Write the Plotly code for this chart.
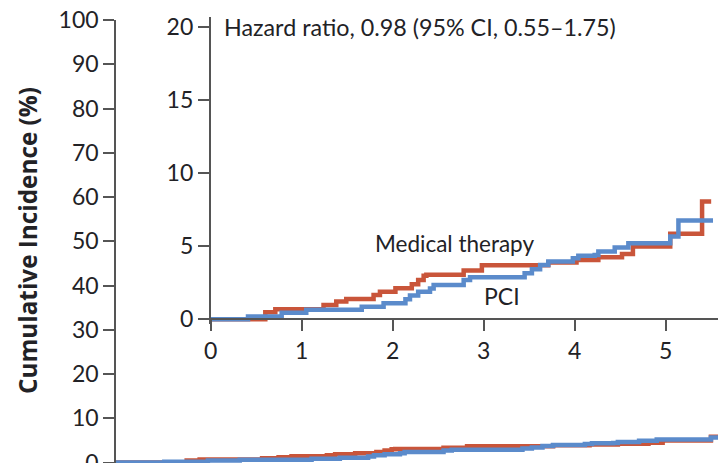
import plotly.graph_objects as go

# Medical therapy (red) step curve: time (years) and cumulative incidence (%)
med_t = [0, 0.60, 0.71, 1.24, 1.38, 1.49, 1.79, 1.86, 2.03, 2.21, 2.28, 2.34, 2.37,
         2.78, 2.98, 3.71, 4.02, 4.26, 4.52, 4.64, 5.05, 5.40, 5.50]
med_v = [0, 0.48, 0.68, 0.98, 1.21, 1.39, 1.66, 1.89, 2.12, 2.40, 2.69, 2.97, 3.05,
         3.33, 3.70, 3.88, 4.06, 4.25, 4.47, 4.97, 5.84, 8.05, 8.05]

# PCI (blue) step curve
pci_t = [0, 0.41, 0.78, 1.05, 1.66, 1.90, 2.14, 2.19, 2.28, 2.41, 2.45, 2.78, 2.85,
         3.45, 3.53, 3.62, 3.71, 3.98, 4.04, 4.22, 4.26, 4.44, 4.59, 5.05, 5.14, 5.52]
pci_v = [0, 0.20, 0.45, 0.65, 0.86, 1.10, 1.37, 1.62, 1.89, 2.10, 2.35, 2.69, 2.88,
         3.15, 3.42, 3.72, 3.95, 4.18, 4.34, 4.40, 4.63, 4.90, 5.20, 5.66, 6.75, 6.75]

outer_yticks = [0, 10, 20, 30, 40, 50, 60, 70, 80, 90, 100]
inset_yticks = [0, 5, 10, 15, 20]
inset_xticks = [0, 1, 2, 3, 4, 5]

RED = "#C9553A"
BLUE = "#5B8BCB"
AXIS = "#555555"
TXT = "#222226"
FONT = "Lato"

W, H = 718, 463

fig = go.Figure()
# outer (0-100 scale)
fig.add_trace(go.Scatter(x=med_t, y=med_v, mode="lines", line=dict(color=RED, width=4.5, shape="hv"),
                         xaxis="x", yaxis="y", showlegend=False, hoverinfo="skip"))
fig.add_trace(go.Scatter(x=pci_t, y=pci_v, mode="lines", line=dict(color=BLUE, width=4.5, shape="hv"),
                         xaxis="x", yaxis="y", showlegend=False, hoverinfo="skip"))
# inset (0-20 scale)
fig.add_trace(go.Scatter(x=med_t, y=med_v, mode="lines", line=dict(color=RED, width=4.5, shape="hv"),
                         xaxis="x2", yaxis="y2", showlegend=False, hoverinfo="skip"))
fig.add_trace(go.Scatter(x=pci_t, y=pci_v, mode="lines", line=dict(color=BLUE, width=4.5, shape="hv"),
                         xaxis="x2", yaxis="y2", showlegend=False, hoverinfo="skip"))

def px_x(p):
    return p / W

def px_y(p):
    return (H - p) / H

tickfont = dict(family=FONT, size=23, color=TXT)

fig.update_layout(
    width=W, height=H,
    margin=dict(l=0, r=0, t=0, b=0, autoexpand=False),
    paper_bgcolor="white", plot_bgcolor="rgba(0,0,0,0)",
    xaxis=dict(domain=[px_x(116), 1.0], range=[0, 5.11], showline=False, showticklabels=False,
               ticks="", showgrid=False, zeroline=False, fixedrange=True, automargin=False),
    yaxis=dict(domain=[0, px_y(20)], range=[-0.11, 100], showline=True, linecolor=AXIS, linewidth=1.6,
               ticks="outside", ticklen=11, tickwidth=1.6, tickcolor=AXIS, tickvals=outer_yticks,
               ticktext=[str(v) for v in outer_yticks], tickfont=tickfont, showgrid=False,
               ticklabeloverflow="allow", zeroline=False, fixedrange=True, automargin=False),
    xaxis2=dict(domain=[px_x(210.7), 1.0], range=[0, 5.575], anchor="free", position=px_y(319.3),
                showline=True, linecolor=AXIS, linewidth=1.6, ticks="outside", ticklen=11, tickwidth=1.6,
                tickcolor=AXIS, tickvals=inset_xticks, ticktext=[str(v) for v in inset_xticks],
                tickfont=tickfont, showgrid=False, zeroline=False, fixedrange=True, automargin=False),
    yaxis2=dict(domain=[px_y(324.3), px_y(16.7)], range=[-0.34, 20.68], anchor="x2", showline=True,
                linecolor=AXIS, linewidth=1.6, ticks="outside", ticklen=11, tickwidth=1.6,
                tickcolor=AXIS, tickvals=inset_yticks, ticktext=[str(v) for v in inset_yticks],
                tickfont=tickfont, showgrid=False, zeroline=False, fixedrange=True, automargin=False),
    annotations=[
        dict(text="<b>Cumulative Incidence (%)</b>", x=px_x(27), y=px_y(241), xref="paper", yref="paper",
             textangle=-90, showarrow=False, xanchor="center", yanchor="middle",
             font=dict(family="Open Sans", size=24.3, color=TXT)),
        dict(text="Hazard ratio, 0.98 (95% CI, 0.55\u20131.75)", x=px_x(222), y=px_y(27), xref="paper",
             yref="paper", showarrow=False, xanchor="left", yanchor="middle",
             font=dict(family=FONT, size=23.3, color=TXT)),
        dict(text="Medical therapy", x=px_x(373), y=px_y(243), xref="paper", yref="paper",
             showarrow=False, xanchor="left", yanchor="middle", font=dict(family=FONT, size=22.5, color=TXT)),
        dict(text="PCI", x=px_x(482), y=px_y(296), xref="paper", yref="paper",
             showarrow=False, xanchor="left", yanchor="middle", font=dict(family=FONT, size=23, color=TXT)),
    ],
)

fig.write_html("out.html")
